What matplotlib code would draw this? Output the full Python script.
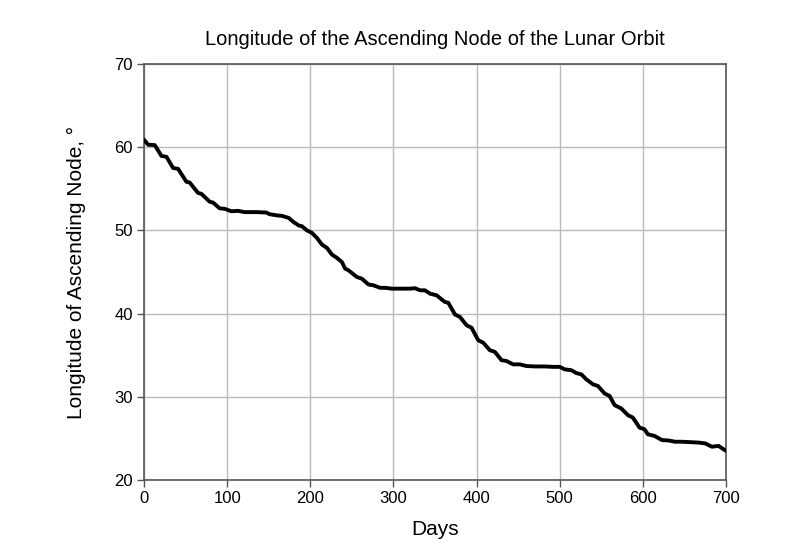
import matplotlib
matplotlib.use('Agg')
import matplotlib.pyplot as plt

# Values (day, longitude in degrees)
days = [0, 5, 13, 21, 27, 35, 41, 51, 55, 65, 69, 79, 83, 91, 97, 105, 113, 121,
        135, 147, 151, 160, 166, 174, 180, 186, 190, 196, 202, 208, 214, 220, 226,
        232, 238, 242, 246, 256, 262, 270, 276, 284, 290, 298, 310, 320, 326, 332,
        338, 344, 352, 358, 362, 366, 374, 380, 388, 394, 402, 408, 416, 422, 430,
        436, 444, 452, 460, 470, 482, 492, 500, 506, 514, 520, 526, 532, 540, 546,
        554, 560, 566, 574, 582, 588, 596, 602, 606, 614, 623, 631, 639, 647, 657,
        667, 675, 683, 691, 700]
longitude = [60.9, 60.3, 60.25, 58.95, 58.85, 57.5, 57.4, 55.85, 55.75, 54.5, 54.4,
             53.45, 53.35, 52.65, 52.6, 52.3, 52.35, 52.2, 52.2, 52.15, 51.95, 51.8,
             51.75, 51.5, 51.0, 50.6, 50.5, 50.0, 49.7, 49.1, 48.3, 47.9, 47.1, 46.7,
             46.2, 45.4, 45.2, 44.4, 44.2, 43.5, 43.4, 43.1, 43.1, 43.0, 43.0, 43.0,
             43.05, 42.8, 42.8, 42.4, 42.2, 41.7, 41.4, 41.3, 39.9, 39.6, 38.6, 38.3,
             36.8, 36.5, 35.6, 35.4, 34.4, 34.3, 33.9, 33.9, 33.7, 33.65, 33.65, 33.6,
             33.6, 33.3, 33.2, 32.85, 32.7, 32.1, 31.5, 31.3, 30.4, 30.1, 29.0, 28.6,
             27.8, 27.5, 26.3, 26.1, 25.5, 25.3, 24.8, 24.75, 24.6, 24.6, 24.55, 24.5,
             24.4, 24.0, 24.1, 23.5]

x_ticks = [0, 100, 200, 300, 400, 500, 600, 700]
y_ticks = [20, 30, 40, 50, 60, 70]

plt.rcParams['font.family'] = ['Liberation Sans', 'DejaVu Sans']

fig = plt.figure(figsize=(8, 5.59), dpi=100)
ax = fig.add_axes([0.18, 0.1413, 0.7275, 0.7442])

ax.plot(days, longitude, color='black', linewidth=2.8,
        solid_joinstyle='round', solid_capstyle='round', zorder=3)

ax.set_xlim(0, 700)
ax.set_ylim(20, 70)
ax.set_xticks(x_ticks)
ax.set_yticks(y_ticks)
ax.grid(True, color='#bbbbbb', linewidth=1.0)
ax.set_axisbelow(True)

for s in ax.spines.values():
    s.set_color('#555555')
    s.set_linewidth(1.2)
ax.tick_params(direction='out', length=5, width=1.0, color='#555555',
               labelsize=12, pad=3)

ax.set_title('Longitude of the Ascending Node of the Lunar Orbit',
             fontsize=14.5, pad=14)
ax.set_xlabel('Days', fontsize=15, labelpad=10)
ax.set_ylabel('Longitude of Ascending Node, °', fontsize=15, labelpad=20)

fig.savefig('out.png', dpi=100)
